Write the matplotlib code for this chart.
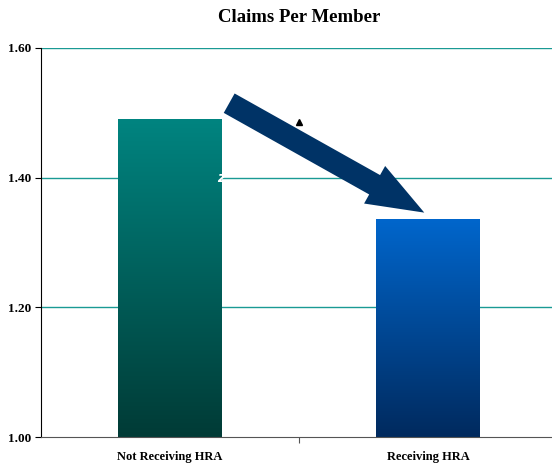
import numpy as np
import matplotlib
matplotlib.use("Agg")
import matplotlib.pyplot as plt
from matplotlib.patches import FancyArrowPatch, ArrowStyle
from matplotlib.colors import LinearSegmentedColormap

categories = ["Not Receiving HRA", "Receiving HRA"]
values = [1.49, 1.335]
yticks = [1.00, 1.20, 1.40, 1.60]
title = "Claims Per Member"

bar_grads = [("#003b36", "#008480"), ("#002a5e", "#0066cc")]

fig = plt.figure(figsize=(5.52, 4.65), dpi=100)
ax = fig.add_axes([41/552, 28/465, 516/552, 389/465])
ax.set_xlim(-0.5, 1.5)
ax.set_ylim(1.0, 1.6)

for yt in yticks[1:]:
    ax.axhline(yt, color="#1a9a94", lw=1.0, zorder=1)

width = 0.403
grad = np.linspace(0, 1, 256).reshape(-1, 1)
for i, (v, (c0, c1)) in enumerate(zip(values, bar_grads)):
    cmap = LinearSegmentedColormap.from_list(f"g{i}", [c0, c1])
    ax.imshow(grad, cmap=cmap, origin="lower", aspect="auto",
              extent=[i - width/2, i + width/2, 1.0, v], zorder=2)
ax.set_xlim(-0.5, 1.5)
ax.set_ylim(1.0, 1.6)

arrow = FancyArrowPatch((0.22, 1.517), (0.995, 1.344),
                        arrowstyle=ArrowStyle.Simple(head_length=41, head_width=31, tail_width=16),
                        mutation_scale=1, color="#003366", zorder=4, lw=0)
ax.add_patch(arrow)
ax.plot([0.5], [1.486], marker="^", color="black", ms=4, zorder=3)
ax.text(0.2, 1.4, "z", color="white", fontsize=10, style="italic", fontweight="bold",
        ha="center", va="center", zorder=3)

ax.set_yticks(yticks)
ax.set_yticklabels([f"{t:.2f}" for t in yticks], fontfamily="Liberation Serif",
                   fontweight="bold", fontsize=9.5)
ax.set_xticks([0.5])
ax.set_xticklabels([""])
for i, c in enumerate(categories):
    ax.text(i, 1.0 - 0.031, c, ha="center", va="center", fontfamily="Liberation Serif",
            fontweight="bold", fontsize=9)
ax.tick_params(axis="y", length=4, width=0.8, pad=3, direction="out")
ax.tick_params(axis="x", length=4, width=0.8, direction="out", color="#555555")
ax.spines["top"].set_visible(False)
ax.spines["right"].set_visible(False)
ax.spines["left"].set_color("black")
ax.spines["bottom"].set_color("#555555")

fig.text(299/552, 1 - 17/465, title, ha="center", va="center",
         fontfamily="Liberation Serif", fontweight="bold", fontsize=13.5)

fig.savefig("out.png", dpi=100)
